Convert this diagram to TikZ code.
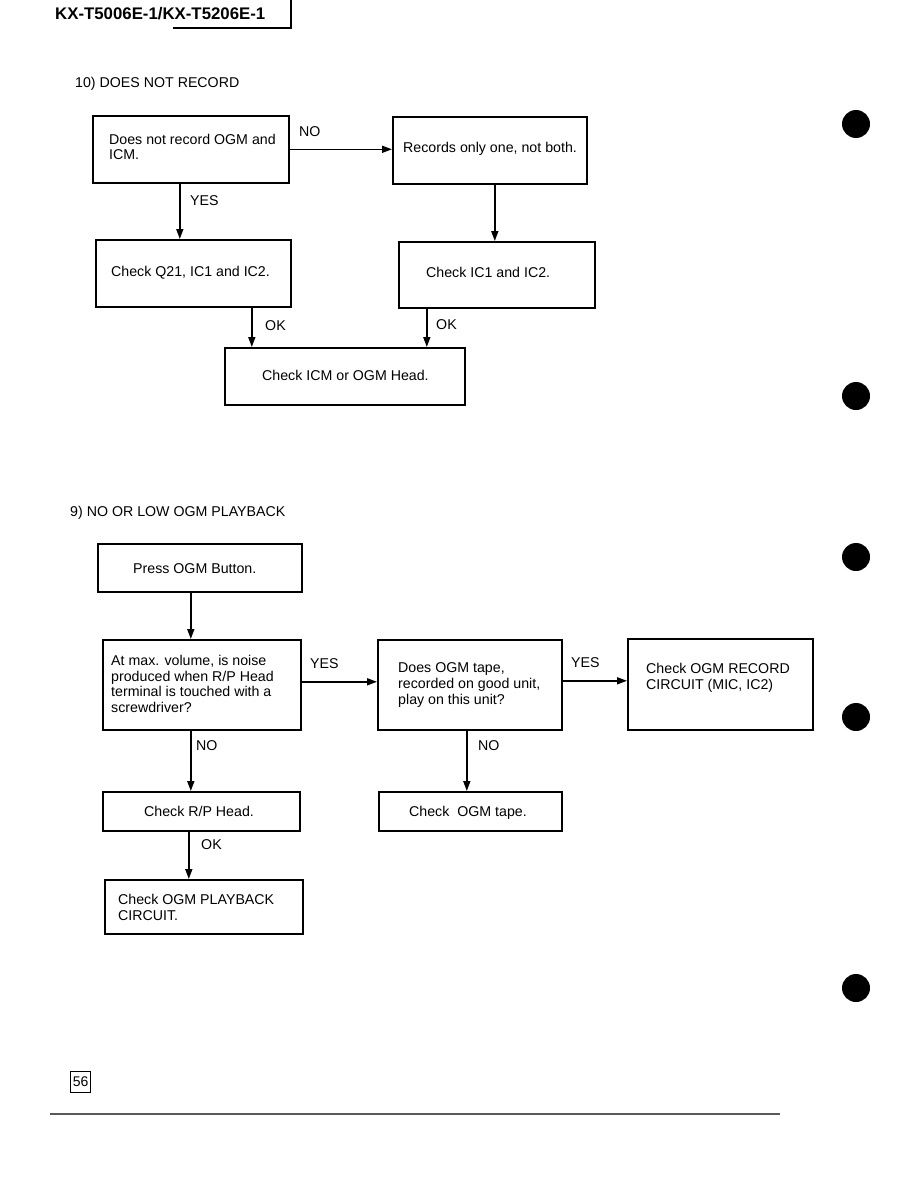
\documentclass[tikz,border=0pt]{standalone}
\usepackage{fontspec}
\setmainfont{Liberation Sans}
\usetikzlibrary{arrows.meta}
\begin{document}
\begin{tikzpicture}[x=1pt,y=-1pt,
  box/.style={draw, line width=1.6pt, inner sep=0pt, anchor=north west},
  txt/.style={anchor=base west, inner sep=0pt, font=\fontsize{14.2}{16}\selectfont},
  lbl/.style={txt},
  arr/.style={line width=1.6pt, -{Triangle[length=10pt,width=7pt]}},
  dot/.style={fill=black}]
\useasboundingbox (0,0) rectangle (918,1188);

% header
\node[anchor=base west, inner sep=0pt, font=\fontsize{16.8}{18}\selectfont\bfseries] (hdr) at (55,20) {KX-T5006E-1/KX-T5206E-1};
\coordinate (h1) at (291,0);
\coordinate (h2) at (291,28);
\coordinate (h3) at (173,28);
\draw[line width=1.1pt] (h1) -- (h2) -- (h3);

% section 10
\node[txt] (title10) at (75,88) {10) DOES NOT RECORD};
\node[box, minimum width=196, minimum height=67] (A) at (92,115) {};
\node[txt] (A1) at (109,144) {Does not record OGM and};
\node[txt] (A2) at (109,160) {ICM.};
\node[box, minimum width=194, minimum height=67] (B) at (392,116) {};
\node[txt] (B1) at (403,153) {Records only one, not both.};
\node[box, minimum width=195, minimum height=67] (C) at (95,239) {};
\node[txt] (C1) at (111,276) {Check Q21, IC1 and IC2.};
\node[box, minimum width=196, minimum height=66] (D) at (398,241) {};
\node[txt] (D1) at (426,277) {Check IC1 and IC2.};
\node[box, minimum width=240, minimum height=57] (E) at (224,347) {};
\node[txt] (E1) at (262,380) {Check ICM or OGM Head.};

\draw[arr] (A.east) -- (A.east -| B.west);
\node[lbl] (lNO1) at (299,136) {NO};
\draw[arr] ([xshift=-11pt]A.south) -- ([xshift=-11pt]A.south |- C.north);
\node[lbl] (lYES1) at (190,205) {YES};
\draw[arr] ([xshift=5pt]B.south) -- ([xshift=5pt]B.south |- D.north);
\draw[arr] ([xshift=58.5pt]C.south) -- ([xshift=58.5pt]C.south |- E.north);
\node[lbl] (lOK1) at (265,330) {OK};
\draw[arr] ([xshift=-70pt]D.south) -- ([xshift=-70pt]D.south |- E.north);
\node[lbl] (lOK2) at (436,329) {OK};

% section 9
\node[txt] (title9) at (70,516) {9) NO OR LOW OGM PLAYBACK};
\node[box, minimum width=204, minimum height=48] (F) at (97,543) {};
\node[txt] (F1) at (133,573) {Press OGM Button.};
\node[box, minimum width=198, minimum height=90] (G) at (102,639) {};
\node[txt] (G1) at (111,665) {At max. volume, is noise};
\node[txt] (G2) at (111,681) {produced when R/P Head};
\node[txt] (G3) at (111,696) {terminal is touched with a};
\node[txt] (G4) at (111,712) {screwdriver?};
\node[box, minimum width=184, minimum height=90] (H) at (377,639) {};
\node[txt] (H1) at (398,672) {Does OGM tape,};
\node[txt] (H2) at (398,688) {recorded on good unit,};
\node[txt] (H3) at (398,704) {play on this unit?};
\node[box, minimum width=185, minimum height=91] (I) at (627,638) {};
\node[txt] (I1) at (646,673) {Check OGM RECORD};
\node[txt] (I2) at (646,689) {CIRCUIT (MIC, IC2)};
\node[box, minimum width=197, minimum height=39] (J) at (102,791) {};
\node[txt] (J1) at (144,816) {Check R/P Head.};
\node[box, minimum width=183, minimum height=39] (K) at (378,791) {};
\node[txt] (K1) at (409,816) {Check\ \ OGM tape.};
\node[box, minimum width=198, minimum height=54] (L) at (104,879) {};
\node[txt] (L1) at (118,904) {Check OGM PLAYBACK};
\node[txt] (L2) at (118,920) {CIRCUIT.};

\draw[arr] ([xshift=-9pt]F.south) -- ([xshift=-9pt]F.south |- G.north);
\draw[arr] ([yshift=3pt]G.east) -- ([yshift=3pt]G.east -| H.west);
\node[lbl] (lYES2) at (310,668) {YES};
\draw[arr] ([yshift=4pt]H.east) -- ([yshift=4pt]H.east -| I.west);
\node[lbl] (lYES3) at (571,667) {YES};
\draw[arr] ([xshift=-11pt]G.south) -- ([xshift=-11pt]G.south |- J.north);
\node[lbl] (lNO2) at (196,750) {NO};
\draw[arr] ([xshift=-3pt]H.south) -- ([xshift=-3pt]H.south |- K.north);
\node[lbl] (lNO3) at (478,750) {NO};
\draw[arr] ([xshift=-12.5pt]J.south) -- ([xshift=-12.5pt]J.south |- L.north);
\node[lbl] (lOK3) at (201,849) {OK};

% binding dots
\fill[dot] (856,124) circle[radius=14pt];
\fill[dot] (856,396) circle[radius=14pt];
\fill[dot] (856,557) circle[radius=14pt];
\fill[dot] (856,717) circle[radius=14pt];
\fill[dot] (856,988) circle[radius=14pt];

% page number and footer line
\node[draw, line width=1.1pt, anchor=north west, minimum width=20, minimum height=21, inner sep=0pt, font=\fontsize{14}{16}\selectfont] (pg) at (70,1071) {56};
\coordinate (f1) at (50,1114);
\coordinate (f2) at (780,1114);
\draw[line width=1.5pt, black!65] (f1) -- (f2);
\end{tikzpicture}
\end{document}
